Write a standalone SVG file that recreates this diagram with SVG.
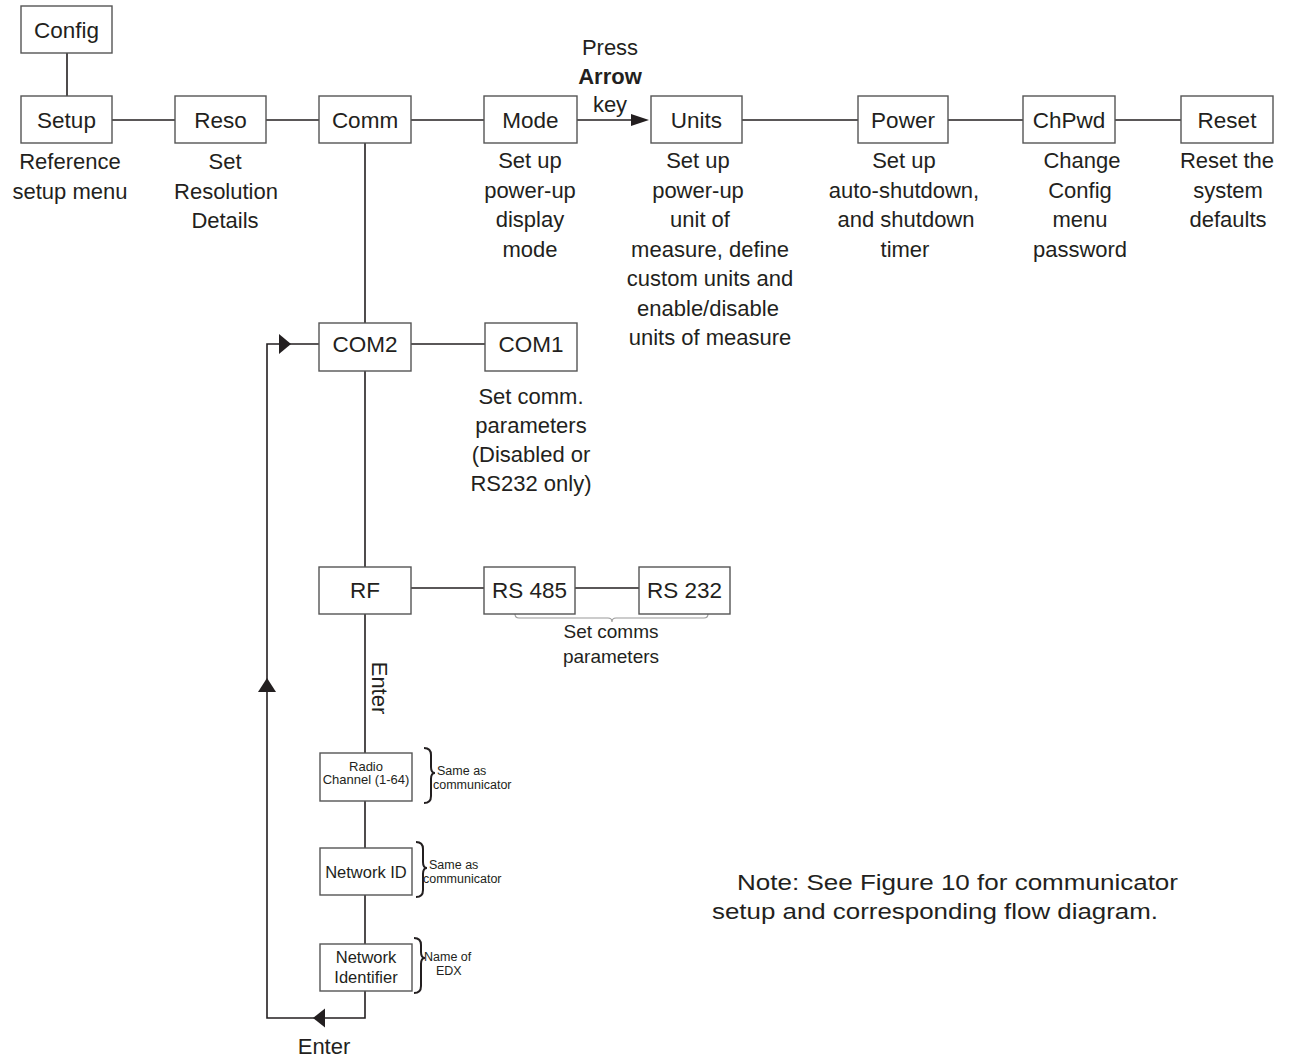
<svg xmlns="http://www.w3.org/2000/svg" width="1295" height="1059" viewBox="0 0 1295 1059">
<style>
rect.b{fill:#fff;stroke:#555;stroke-width:1.4}
text{font-family:"Liberation Sans",Arial,sans-serif;fill:#231f20}
.t{font-size:22.5px;text-anchor:middle}
.c{font-size:22px;text-anchor:middle}
.s{font-size:13px;text-anchor:middle}
.m{font-size:16.5px;text-anchor:middle}
.x{font-size:12.5px}
.ln{stroke:#231f20;stroke-width:1.6;fill:none}
.ah{fill:#231f20}
.br{stroke:#231f20;stroke-width:2;fill:none}
</style>
<rect width="1295" height="1059" fill="#fff"/>
<g id="connectors">
<line class="ln" x1="67" y1="53" x2="67" y2="96"/>
<line class="ln" x1="112" y1="120" x2="175" y2="120"/>
<line class="ln" x1="266" y1="120" x2="319" y2="120"/>
<line class="ln" x1="411" y1="120" x2="484" y2="120"/>
<line class="ln" x1="577" y1="120" x2="633" y2="120"/>
<polygon class="ah" points="649,120 631,114 631,126"/>
<line class="ln" x1="742" y1="120" x2="858" y2="120"/>
<line class="ln" x1="948" y1="120" x2="1023" y2="120"/>
<line class="ln" x1="1115" y1="120" x2="1181" y2="120"/>
<line class="ln" x1="365" y1="143" x2="365" y2="323"/>
<line class="ln" x1="411" y1="344" x2="485" y2="344"/>
<line class="ln" x1="365" y1="371" x2="365" y2="567"/>
<line class="ln" x1="411" y1="588" x2="484" y2="588"/>
<line class="ln" x1="575" y1="588" x2="639" y2="588"/>
<line class="ln" x1="365" y1="614" x2="365" y2="753"/>
<line class="ln" x1="365" y1="801" x2="365" y2="848"/>
<line class="ln" x1="365" y1="895" x2="365" y2="944"/>
<polyline class="ln" points="365,991 365,1018 267,1018 267,344 319,344"/>
<polygon class="ah" points="313,1018 325,1008.5 325,1027.5"/>
<polygon class="ah" points="267,678 258,692 276,692"/>
<polygon class="ah" points="291,344 279,334 279,354"/>
<path d="M515,614 Q515,618 519,618 L608,618 Q612,618 612,622 Q612,618 616,618 L704,618 Q708,618 708,614" stroke="#9a9a9a" stroke-width="1.1" fill="none"/>
<path class="br" d="M424,748 Q431,748 431,755 L431,767 Q431,773 435,773 Q431,773 431,779 L431,796 Q431,803 424,803"/>
<path class="br" d="M416,842 Q423,842 423,849 L423,862 Q423,868 427,868 Q423,868 423,874 L423,890 Q423,897 416,897"/>
<path class="br" d="M414,938 Q421,938 421,945 L421,952 Q421,958 425,958 Q421,958 421,964 L421,986 Q421,993 414,993"/>
</g>
<g id="n-config"><rect class="b" x="21" y="6" width="91" height="47"/><text class="t" x="66.5" y="37.5">Config</text></g>
<g id="n-setup"><rect class="b" x="21" y="96" width="91" height="47"/><text class="t" x="66.5" y="127.5">Setup</text>
<text class="c" x="70" y="169">Reference</text><text class="c" x="70" y="198.5">setup menu</text></g>
<g id="n-reso"><rect class="b" x="175" y="96" width="91" height="47"/><text class="t" x="220.5" y="127.5">Reso</text>
<text class="c" x="225" y="169">Set</text><text class="c" x="226" y="198.5">Resolution</text><text class="c" x="225" y="228">Details</text></g>
<g id="n-comm"><rect class="b" x="319" y="96" width="92" height="47"/><text class="t" x="365" y="127.5">Comm</text></g>
<g id="n-mode"><rect class="b" x="484" y="96" width="93" height="47"/><text class="t" x="530.5" y="127.5">Mode</text>
<text class="c" x="530" y="168">Set up</text><text class="c" x="530" y="197.5">power-up</text><text class="c" x="530" y="227">display</text><text class="c" x="530" y="256.5">mode</text></g>
<g id="n-press"><text class="c" x="610" y="55">Press</text><text class="c" x="610" y="83.5" font-weight="bold">Arrow</text><text class="c" x="610" y="112">key</text></g>
<g id="n-units"><rect class="b" x="651" y="96" width="91" height="47"/><text class="t" x="696.5" y="127.5">Units</text>
<text class="c" x="698" y="168">Set up</text><text class="c" x="698" y="197.5">power-up</text><text class="c" x="700" y="227">unit of</text><text class="c" x="710" y="256.5">measure, define</text><text class="c" x="710" y="286">custom units and</text><text class="c" x="708" y="315.5">enable/disable</text><text class="c" x="710" y="345">units of measure</text></g>
<g id="n-power"><rect class="b" x="858" y="96" width="90" height="47"/><text class="t" x="903" y="127.5">Power</text>
<text class="c" x="904" y="168">Set up</text><text class="c" x="904" y="197.5">auto-shutdown,</text><text class="c" x="906" y="227">and shutdown</text><text class="c" x="905" y="256.5">timer</text></g>
<g id="n-chpwd"><rect class="b" x="1023" y="96" width="92" height="47"/><text class="t" x="1069" y="127.5">ChPwd</text>
<text class="c" x="1082" y="168">Change</text><text class="c" x="1080" y="197.5">Config</text><text class="c" x="1080" y="227">menu</text><text class="c" x="1080" y="256.5">password</text></g>
<g id="n-reset"><rect class="b" x="1181" y="96" width="92" height="47"/><text class="t" x="1227" y="127.5">Reset</text>
<text class="c" x="1227" y="168">Reset the</text><text class="c" x="1228" y="197.5">system</text><text class="c" x="1228" y="227">defaults</text></g>
<g id="n-com2"><rect class="b" x="319" y="323" width="92" height="48"/><text class="t" x="365" y="352">COM2</text></g>
<g id="n-com1"><rect class="b" x="485" y="323" width="92" height="48"/><text class="t" x="531" y="352">COM1</text>
<text class="c" x="531" y="404">Set comm.</text><text class="c" x="531" y="433">parameters</text><text class="c" x="531" y="462">(Disabled or</text><text class="c" x="531" y="491">RS232 only)</text></g>
<g id="n-rf"><rect class="b" x="319" y="567" width="92" height="47"/><text class="t" x="365" y="598">RF</text>
<text class="c" x="0" y="0" transform="translate(372,688) rotate(90)">Enter</text></g>
<g id="n-rs485"><rect class="b" x="484" y="567" width="91" height="47"/><text class="t" x="529.5" y="598">RS 485</text></g>
<g id="n-rs232"><rect class="b" x="639" y="567" width="91" height="47"/><text class="t" x="684.5" y="598">RS 232</text></g>
<g id="n-rscap"><text x="611" y="638" font-size="19" text-anchor="middle">Set comms</text><text x="611" y="663" font-size="19" text-anchor="middle">parameters</text></g>
<g id="n-radio"><rect class="b" x="320" y="753" width="92" height="48"/><text class="s" x="366" y="771">Radio</text><text class="s" x="366" y="784">Channel (1-64)</text>
<text class="x" x="437" y="775">Same as</text><text class="x" x="433" y="789">communicator</text></g>
<g id="n-netid"><rect class="b" x="320" y="848" width="92" height="47"/><text class="m" x="366" y="878">Network ID</text>
<text class="x" x="429" y="869">Same as</text><text class="x" x="423" y="883">communicator</text></g>
<g id="n-netident"><rect class="b" x="320" y="944" width="92" height="47"/><text class="m" x="366" y="963">Network</text><text class="m" x="366" y="983">Identifier</text>
<text class="x" x="424" y="961" font-size="12">Name of</text><text class="x" x="436" y="975" font-size="12">EDX</text></g>
<g id="n-enter"><text class="c" x="324" y="1054">Enter</text></g>
<g id="n-note"><text x="737" y="890" font-size="22" textLength="441" lengthAdjust="spacingAndGlyphs">Note: See Figure 10 for communicator</text>
<text x="712" y="919" font-size="22" textLength="446" lengthAdjust="spacingAndGlyphs">setup and corresponding flow diagram.</text></g>
</svg>
